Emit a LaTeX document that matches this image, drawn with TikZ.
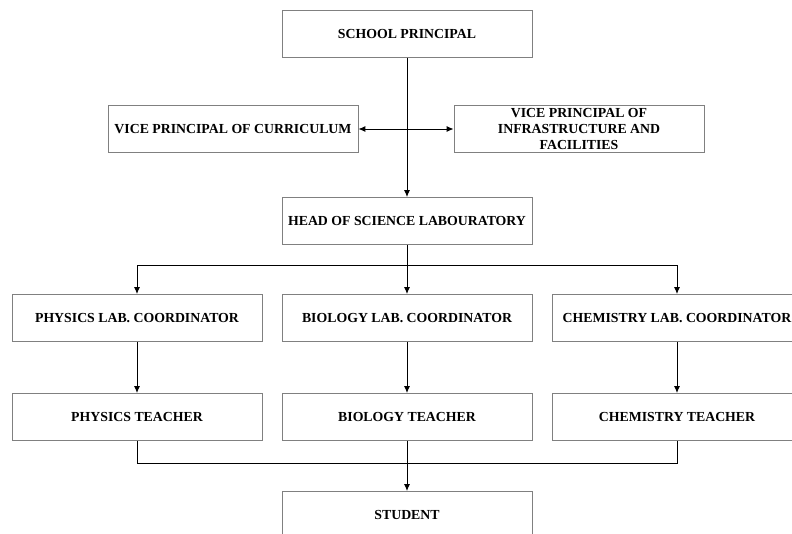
\documentclass[tikz,border=0pt]{standalone}
\usepackage{fontspec}
\setmainfont{Liberation Serif}
\usepackage{xcolor}
\usetikzlibrary{arrows.meta, positioning}

\begin{document}
\begin{tikzpicture}[x=1pt, y=1pt, node distance=95pt]
    \tikzstyle{post} = [rectangle, minimum width=250pt, minimum height=47pt, text centered, align=center, draw=black!50, line width=0.8pt, font=\fontsize{13.8}{16}\selectfont\bfseries, inner sep=0pt]
    \tikzstyle{arrow} = [line width=1pt, -{Latex[length=7pt, width=6pt]}]
    \tikzstyle{link} = [line width=1pt]

    \useasboundingbox (0,0) rectangle (792,-533);
    \clip (0,0) rectangle (792,-533);

    \node (principal) [post] at (407,-34) {SCHOOL PRINCIPAL};
    \node (vcurr) [post, below of=principal, xshift=-174pt] {VICE PRINCIPAL OF CURRICULUM};
    \node (vinfra) [post, below of=principal, xshift=172pt] {VICE PRINCIPAL OF\\INFRASTRUCTURE AND\\FACILITIES};
    \node (head) [post, below of=principal, yshift=-92pt] {HEAD OF SCIENCE LABOURATORY};
    \node (bcoord) [post, below of=head, yshift=-2pt] {BIOLOGY LAB. COORDINATOR};
    \node (pcoord) [post, left of=bcoord, xshift=-175pt] {PHYSICS LAB. COORDINATOR};
    \node (ccoord) [post, right of=bcoord, xshift=175pt] {CHEMISTRY LAB. COORDINATOR};
    \node (bteacher) [post, below of=bcoord, yshift=-4pt] {BIOLOGY TEACHER};
    \node (pteacher) [post, below of=pcoord, yshift=-4pt] {PHYSICS TEACHER};
    \node (cteacher) [post, below of=ccoord, yshift=-4pt] {CHEMISTRY TEACHER};
    \node (student) [post, below of=bteacher, yshift=-3pt] {STUDENT};

    \draw [arrow] (principal) -- (head);
    \draw [link, {Latex[length=7pt, width=6pt]}-{Latex[length=7pt, width=6pt]}] (vcurr) -- (vinfra);
    \draw [arrow] (head) -- (bcoord);
    \draw [arrow] (head.south) ++(0,-21pt) -| (pcoord.north);
    \draw [arrow] (head.south) ++(0,-21pt) -| (ccoord.north);
    \draw [arrow] (pcoord) -- (pteacher);
    \draw [arrow] (bcoord) -- (bteacher);
    \draw [arrow] (ccoord) -- (cteacher);
    \draw [link] (pteacher.south) -- ++(0,-23pt) -| (cteacher.south);
    \draw [arrow] (bteacher) -- (student);
\end{tikzpicture}
\end{document}
